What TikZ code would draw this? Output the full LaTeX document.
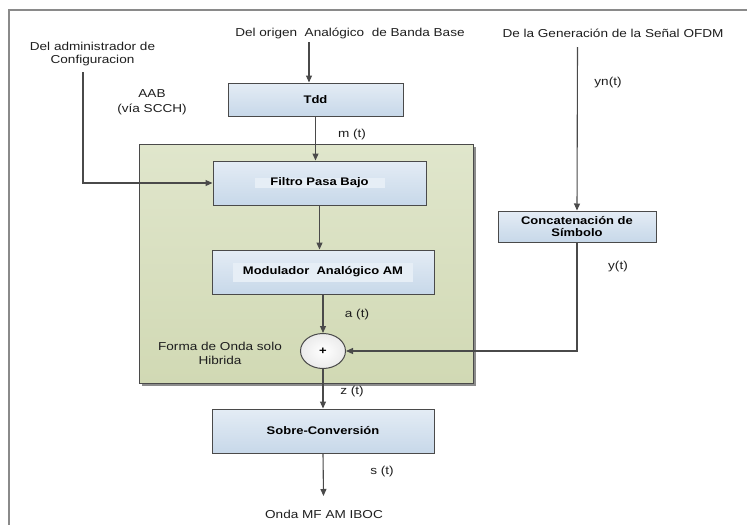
\documentclass[tikz,border=0pt]{standalone}
\usepackage{fontspec}
\setmainfont{Liberation Sans}[FakeStretch=1.18]
\usetikzlibrary{arrows.meta,shadows,shapes.geometric,calc}

\definecolor{framegray}{HTML}{8A8A8A}
\definecolor{linegray}{HTML}{4A4A4A}
\definecolor{boxtop}{HTML}{E4ECF5}
\definecolor{boxbottom}{HTML}{C7D8E9}
\definecolor{bandcol}{HTML}{E6EEF6}
\definecolor{greentop}{HTML}{E0E6CC}
\definecolor{greenbottom}{HTML}{D1D9B4}
\definecolor{textcol}{HTML}{1E1E1E}

\tikzset{
  arr/.style={draw=linegray, line width=1.1pt, -{Triangle[length=7pt,width=6pt]}},
  conn/.style={draw=linegray, line width=1.1pt},
  blockbox/.style={draw=linegray, line width=1pt, top color=boxtop, bottom color=boxbottom,
    drop shadow={shadow xshift=1.2pt, shadow yshift=-1.2pt, opacity=.3, fill=black},
    font=\fontsize{11}{12}\selectfont\bfseries, text=black, align=center, inner sep=0pt},
  band/.style={path picture={\fill[bandcol] ($(path picture bounding box.center)+(#1)$)
    rectangle ($(path picture bounding box.center)-(#1)$);}},
  lbl/.style={font=\fontsize{11.5}{14}\selectfont, text=textcol, align=center, inner sep=0pt},
  sumnode/.style={ellipse, draw=linegray, line width=1pt, inner color=white, outer color=black!8,
    minimum width=45pt, minimum height=35pt, inner sep=0pt,
    font=\fontsize{11}{12}\selectfont\bfseries},
}

\begin{document}
\begin{tikzpicture}[x=1pt,y=-1pt]
\useasboundingbox (0,0) rectangle (747,525);

% outer frame
\draw[framegray, line width=1.6pt] (747,10) -- (9,10) -- (9,525);

% hybrid waveform region
\fill[black!45] (141.5,146.5) rectangle (475.5,385.5);
\draw[linegray, line width=1pt, top color=greentop, bottom color=greenbottom] (139,144) rectangle (473,383);

% blocks
\node[blockbox, minimum width=175pt, minimum height=33pt] (tdd) at (315.5,99.5) {Tdd};
\node[blockbox, minimum width=213pt, minimum height=44pt, band={65pt,5pt}] (filtro) at (319.5,183) {Filtro Pasa Bajo};
\node[blockbox, minimum width=222pt, minimum height=44pt, band={90pt,9.5pt}] (mod) at (323,272) {Modulador~~Analógico AM};
\node[sumnode] (sum) at (323,351) {+};
\node[blockbox, minimum width=222pt, minimum height=44pt] (sobre) at (323,431) {Sobre-Conversión};
\node[blockbox, minimum width=158pt, minimum height=31pt, font=\fontsize{11}{11.5}\selectfont\bfseries] (concat) at (577,226.5) {Concatenación de\\Símbolo};

% source and sink texts
\node[lbl] (orig) at (350,33) {Del origen~~Analógico~~de Banda Base};
\node[lbl] (ofdm) at (613,33) {De la Generación de la Señal OFDM};
\node[lbl, font=\fontsize{11.5}{13.5}\selectfont] (cfg) at (92.5,54) {Del administrador de\\Configuracion};
\node[lbl, font=\fontsize{11.5}{15}\selectfont] (aab) at (152,102) {AAB\\(vía SCCH)};
\node[lbl, font=\fontsize{11.5}{13.5}\selectfont] (hyblbl) at (220,353.5) {Forma de Onda solo\\Hibrida};
\node[lbl] (outlbl) at (324,514) {Onda MF AM IBOC};

% signal labels
\node[lbl] (mt) at (352,135) {m (t)};
\node[lbl] (at) at (357,315) {a (t)};
\node[lbl] (zt) at (352,392) {z (t)};
\node[lbl] (st) at (382,472) {s (t)};
\node[lbl] (ynt) at (608,83) {yn(t)};
\node[lbl] (yt) at (618,267) {y(t)};

% free ends of connectors
\coordinate (origin) at (309,42);
\coordinate (ofdmin) at (577.5,47);
\coordinate (cfgin) at (83,72);
\coordinate (out) at (323.5,496);

% connectors
\draw[arr] (origin) -- (origin |- tdd.north);
\draw[arr] (tdd.south) -- (tdd.south |- filtro.north);
\draw[arr] (cfgin) |- (filtro.west);
\draw[arr] (filtro.south) -- (filtro.south |- mod.north);
\draw[arr] (mod.south) -- (sum.north);
\draw[arr] (ofdmin) -- (concat.north);
\draw[arr] (concat.south) |- (sum.east);
\draw[arr] (sum.south) -- (sobre.north);
\draw[arr] (sobre.south) -- (out);
\end{tikzpicture}
\end{document}
